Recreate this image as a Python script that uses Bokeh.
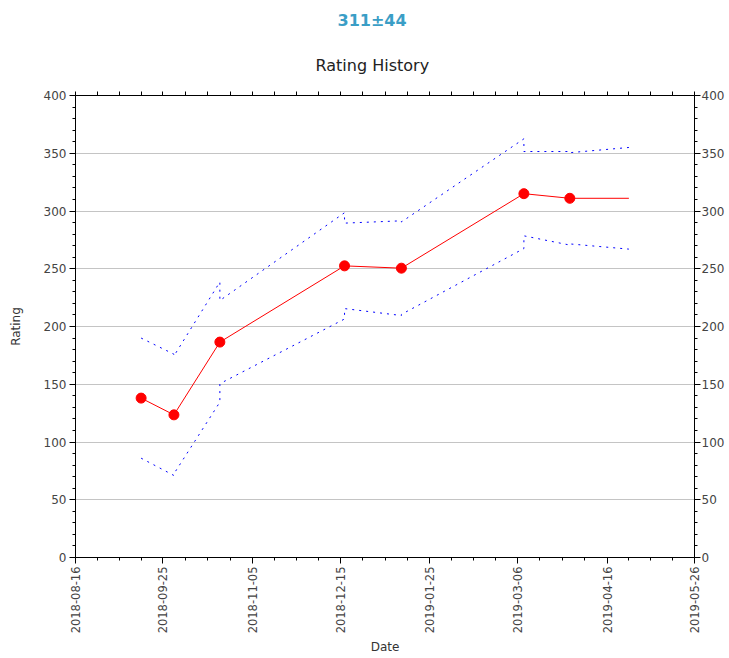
import calendar
import math
from datetime import datetime

from bokeh.plotting import figure
from bokeh.models import (Range1d, LinearAxis, DatetimeAxis, FixedTicker,
                          DatetimeTickFormatter, Title)
from bokeh.embed import file_html
from bokeh.resources import INLINE

# ------------------------------------------------------------------ data
game_dates = ["2018-09-15", "2018-09-30", "2018-10-21", "2018-12-17",
              "2019-01-12", "2019-03-09", "2019-03-30"]
ratings = [138, 123.5, 186.5, 252.5, 250.5, 315, 311]
rd_before = [52, 52.5, 52, 46, 41, 47.5, 40.5]   # deviation just before each game
rd_after = [52, 51, 36, 37, 40, 36.5, 39.5]      # deviation just after each game
last_date = "2019-04-26"
last_rating = 311
last_rd = 44

x_tick_labels = ["2018-08-16", "2018-09-25", "2018-11-05", "2018-12-15",
                 "2019-01-25", "2019-03-06", "2019-04-16", "2019-05-26"]
y_ticks = [0, 50, 100, 150, 200, 250, 300, 350, 400]
y_minor_ticks = list(range(0, 401, 10))

title_text = "Rating History"
summary_text = f"{last_rating}±{last_rd}"
x_label = "Date"
y_label = "Rating"

FONT = "DejaVu Sans"


def ms(s):
    return calendar.timegm(datetime.strptime(s, "%Y-%m-%d").timetuple()) * 1000.0


# rating line
line_x = [ms(d) for d in game_dates] + [ms(last_date)]
line_y = ratings + [last_rating]

# deviation band (steps at each game)
band_x, band_up, band_lo = [], [], []
for d, r, b, a in zip(game_dates, ratings, rd_before, rd_after):
    t = ms(d)
    band_x += [t, t]
    band_up += [r + b, r + a]
    band_lo += [r - b, r - a]
band_x.append(ms(last_date))
band_up.append(last_rating + last_rd)
band_lo.append(last_rating - last_rd)

# ticks
major_ms = [ms(s) for s in x_tick_labels]
minor_ms = []
for a, b in zip(major_ms[:-1], major_ms[1:]):
    for k in range(4):
        minor_ms.append(a + (b - a) * k / 4.0)
minor_ms.append(major_ms[-1])

xt = FixedTicker(ticks=major_ms, minor_ticks=minor_ms)
xt_top = FixedTicker(ticks=[], minor_ticks=minor_ms)
yt = FixedTicker(ticks=y_ticks, minor_ticks=y_minor_ticks)
fmt = "%Y-%m-%d"
xfmt = DatetimeTickFormatter(microseconds=fmt, milliseconds=fmt, seconds=fmt,
                             minsec=fmt, minutes=fmt, hourmin=fmt, hours=fmt,
                             days=fmt, months=fmt, years=fmt)

# ------------------------------------------------------------------ figure
p = figure(width=727, height=657, x_axis_type="datetime",
           x_range=Range1d(major_ms[0], major_ms[-1]),
           y_range=Range1d(y_ticks[0], y_ticks[-1]),
           output_backend="svg", toolbar_location=None,
           title=summary_text,
           min_border_left=75, min_border_right=0,
           min_border_top=94, min_border_bottom=0,
           background_fill_color="white", border_fill_color="white")
p.outline_line_color = None

p.title.text_font = FONT
p.title.text_font_size = "16px"
p.title.text_font_style = "bold"
p.title.text_color = "#3a9ec6"
p.title.align = "left"
p.title.offset = 262
p.title.standoff = 16


def style_axis(ax):
    ax.axis_line_color = "black"
    ax.axis_line_width = 1
    ax.major_tick_line_color = "black"
    ax.minor_tick_line_color = "black"
    ax.major_tick_in = 0
    ax.minor_tick_in = 0
    ax.major_tick_out = 6
    ax.minor_tick_out = 3
    ax.major_label_text_font = FONT
    ax.major_label_text_color = "#444444"
    ax.major_label_text_font_size = "12px"
    ax.axis_label_text_font = FONT
    ax.axis_label_text_font_size = "12px"
    ax.axis_label_text_font_style = "normal"
    ax.axis_label_text_color = "#333333"


# bottom axis
bx = p.xaxis[0]
style_axis(bx)
bx.ticker = xt
bx.formatter = xfmt
bx.major_label_text_font_size = "11.5px"
bx.major_label_orientation = math.pi / 2
bx.major_label_standoff = 3
bx.axis_label = x_label
bx.axis_label_standoff = 4

# left axis
ly = p.yaxis[0]
style_axis(ly)
ly.ticker = yt
ly.major_label_standoff = 3
ly.axis_label = y_label
ly.axis_label_standoff = 18

# right axis
ry = LinearAxis(ticker=yt)
style_axis(ry)
ry.major_label_standoff = 1
p.add_layout(ry, "right")

# top axis (ticks only, no labels)
tx = DatetimeAxis(ticker=xt_top, formatter=xfmt)
style_axis(tx)
tx.major_tick_out = 4
tx.minor_tick_out = 4
tx.major_label_standoff = 0
p.add_layout(tx, "above")

# secondary title
p.add_layout(Title(text=title_text, align="left", offset=240, text_font=FONT,
                   text_font_size="16px", text_font_style="normal",
                   text_color="#222222", standoff=33), "above")

# grid
p.xgrid.visible = False
p.ygrid.ticker = yt
p.ygrid.grid_line_color = "#c4c4c4"
p.ygrid.grid_line_width = 1

# data
p.line(band_x, band_up, line_color="blue", line_width=1, line_dash="2 5")
p.line(band_x, band_lo, line_color="blue", line_width=1, line_dash="2 5")
p.line(line_x, line_y, line_color="red", line_width=1)
p.scatter([ms(d) for d in game_dates], ratings, marker="circle", size=10,
          fill_color="red", line_color="red")

open("out.html", "w").write(file_html(p, INLINE))
